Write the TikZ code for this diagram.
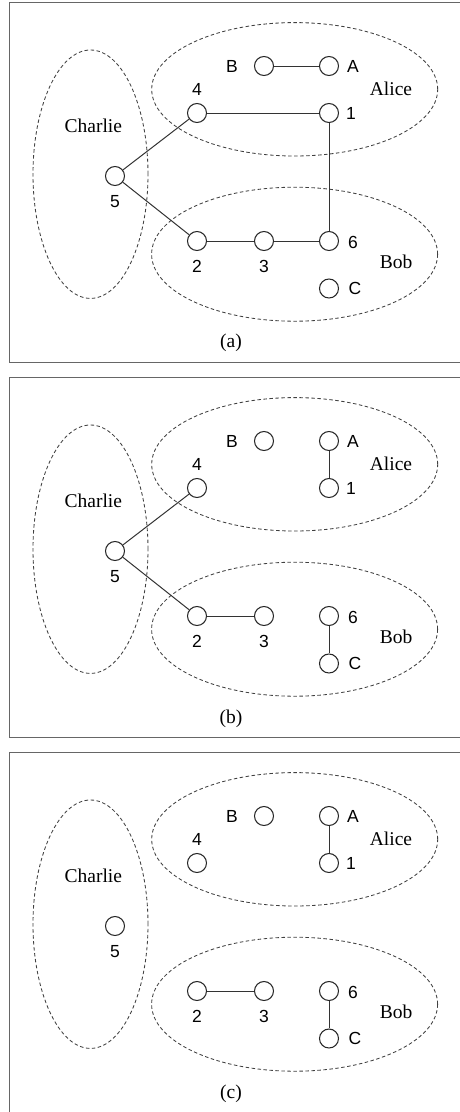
\documentclass[tikz,border=0pt]{standalone}
\usepackage{fontspec}
\setmainfont{Liberation Serif}
\newfontfamily\arialf{Liberation Sans}
\newcommand\panelbase[1]{%
  \draw[grp] (90.5,174.2) ellipse [x radius=57.5pt, y radius=124.2pt];
  \draw[grp] (294.7,89.3) ellipse [x radius=143pt, y radius=66.7pt];
  \draw[grp] (294.6,254.2) ellipse [x radius=143pt, y radius=67pt];
  \draw[frm] (470,2.7) -- (9.3,2.7) -- (9.3,362.7) -- (470,362.7);
  \node[vtx] (B) at (264,66) {};
  \node[vtx] (A) at (329,66) {};
  \node[vtx] (4) at (197,113) {};
  \node[vtx] (1) at (329,113) {};
  \node[vtx] (5) at (115,176) {};
  \node[vtx] (2) at (197,241) {};
  \node[vtx] (3) at (264,241) {};
  \node[vtx] (6) at (329,241) {};
  \node[vtx] (C) at (329,288.5) {};
  \node[num] (lB) at (232,66) {B};
  \node[num] (lA) at (353,66) {A};
  \node[num] (l4) at (197,89.3) {4};
  \node[num] (l1) at (351,113) {1};
  \node[num] (l5) at (115,201.7) {5};
  \node[num] (l2) at (197,266.7) {2};
  \node[num] (l3) at (264,266.7) {3};
  \node[num] (l6) at (353,242) {6};
  \node[num] (lC) at (355,288.5) {C};
  \node[nm] (charlie) at (93.3,126) {Charlie};
  \node[nm] (alice) at (391,88.5) {Alice};
  \node[nm] (bob) at (396,261.7) {Bob};
  \node[nm] (cap) at (231,343.3) {(#1)};
}
\begin{document}
\begin{tikzpicture}[x=1pt,y=-1pt,
  vtx/.style={circle,draw=black!85,fill=white,minimum size=19pt,inner sep=0pt,line width=1.05pt},
  num/.style={font=\arialf\fontsize{17.5}{20}\selectfont,inner sep=0pt},
  nm/.style={font=\fontsize{19.5}{22}\selectfont,inner sep=0pt},
  grp/.style={draw=black!75,dash pattern=on 3.5pt off 2.5pt,line width=0.85pt},
  edge/.style={draw=black!80,line width=1pt},
  frm/.style={draw=black!60,line width=1.4pt}]
\useasboundingbox (0,0) rectangle (459,1112);
\begin{scope}[name prefix=a-]
  \panelbase{a}
  \draw[edge] (B) -- (A);
  \draw[edge] (4) -- (1);
  \draw[edge] (5) -- (4);
  \draw[edge] (5) -- (2);
  \draw[edge] (2) -- (3);
  \draw[edge] (3) -- (6);
  \draw[edge] (1) -- (6);
\end{scope}
\begin{scope}[yshift=-375pt,name prefix=b-]
  \panelbase{b}
  \draw[edge] (A) -- (1);
  \draw[edge] (5) -- (4);
  \draw[edge] (5) -- (2);
  \draw[edge] (2) -- (3);
  \draw[edge] (6) -- (C);
\end{scope}
\begin{scope}[yshift=-750pt,name prefix=c-]
  \panelbase{c}
  \draw[edge] (A) -- (1);
  \draw[edge] (2) -- (3);
  \draw[edge] (6) -- (C);
\end{scope}
\end{tikzpicture}
\end{document}
